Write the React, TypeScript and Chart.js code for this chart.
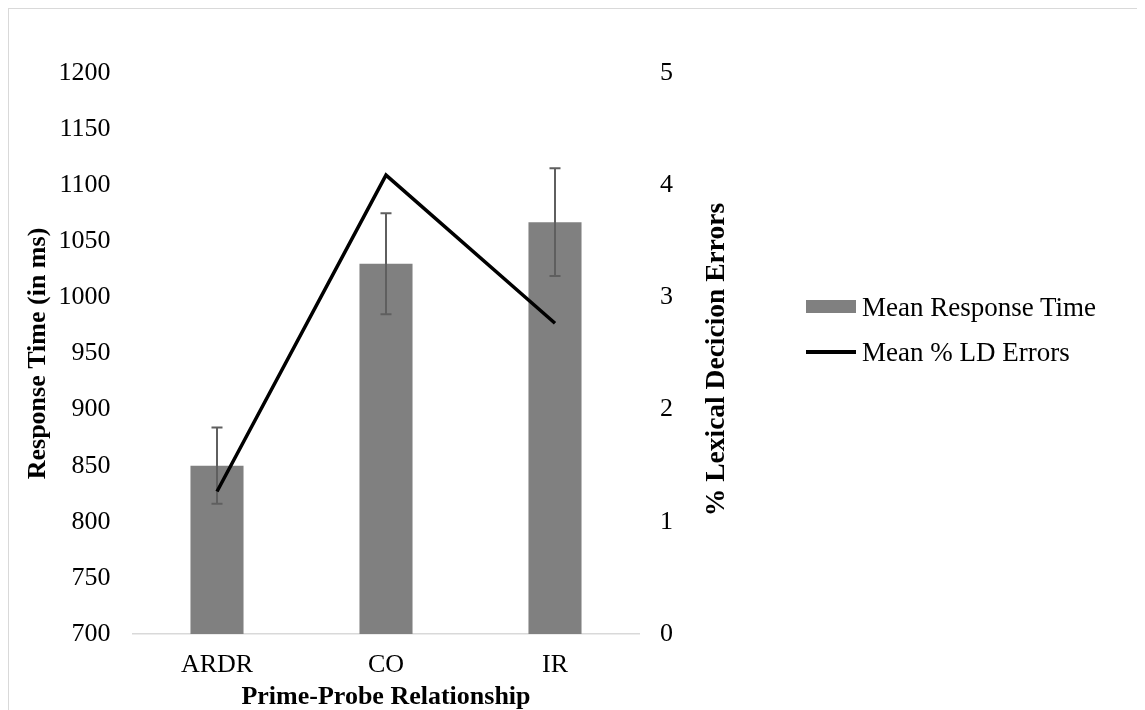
import React, { useEffect, useRef } from "react";
import { Chart, registerables } from "chart.js";

Chart.register(...registerables);

const categories = ["ARDR", "CO", "IR"];
const meanResponseTime = [850, 1030, 1067];
const responseTimeError = [34, 45, 48];
const meanLdErrors = [1.27, 4.09, 2.77];

const leftTicks = [700, 750, 800, 850, 900, 950, 1000, 1050, 1100, 1150, 1200];
const rightTicks = [0, 1, 2, 3, 4, 5];

const FONT = "'Liberation Serif', 'Times New Roman', serif";
const BAR_COLOR = "#808080";
const ERR_COLOR = "#5f5f5f";

const errorBarPlugin = {
  id: "errorBars",
  afterDatasetDraw(chart: any, args: any) {
    if (args.index !== 0) return;
    const meta = chart.getDatasetMeta(0);
    const y = chart.scales.y;
    const ctx = chart.ctx;
    ctx.save();
    ctx.strokeStyle = ERR_COLOR;
    ctx.lineWidth = 2;
    meta.data.forEach((bar: any, i: number) => {
      const x = bar.x;
      const top = y.getPixelForValue(meanResponseTime[i] + responseTimeError[i]);
      const bottom = y.getPixelForValue(meanResponseTime[i] - responseTimeError[i]);
      ctx.beginPath();
      ctx.moveTo(x, top);
      ctx.lineTo(x, bottom);
      ctx.moveTo(x - 5.5, top);
      ctx.lineTo(x + 5.5, top);
      ctx.moveTo(x - 5.5, bottom);
      ctx.lineTo(x + 5.5, bottom);
      ctx.stroke();
    });
    ctx.restore();
  },
};

const rightTitlePlugin = {
  id: "rightTitle",
  afterDraw(chart: any) {
    const ctx = chart.ctx;
    const area = chart.chartArea;
    ctx.save();
    ctx.translate(709, (area.top + area.bottom) / 2 + 6);
    ctx.rotate(-Math.PI / 2);
    ctx.font = `bold 27.5px ${FONT}`;
    ctx.fillStyle = "#000";
    ctx.textAlign = "center";
    ctx.textBaseline = "middle";
    ctx.fillText("% Lexical Decicion Errors", 0, 0);
    ctx.restore();
  },
};

export default function App() {
  const ref = useRef<HTMLCanvasElement>(null);

  useEffect(() => {
    if (!ref.current) return;
    const chart = new Chart(ref.current, {
      type: "bar",
      data: {
        labels: categories,
        datasets: [
          {
            type: "bar",
            label: "Mean Response Time",
            data: meanResponseTime,
            backgroundColor: BAR_COLOR,
            borderWidth: 0,
            yAxisID: "y",
            order: 1,
            categoryPercentage: 1,
            barPercentage: 0.314,
          } as any,
          {
            type: "line",
            label: "Mean % LD Errors",
            data: meanLdErrors,
            borderColor: "#000",
            backgroundColor: "#000",
            borderWidth: 3.5,
            pointRadius: 0,
            tension: 0,
            yAxisID: "y1",
            order: 0,
          } as any,
        ],
      },
      options: {
        animation: false,
        responsive: false,
        maintainAspectRatio: false,
        layout: { padding: { left: 0, top: 65, right: 405.5, bottom: 0 } },
        plugins: {
          legend: { display: false },
          tooltip: { enabled: false },
        },
        scales: {
          x: {
            grid: { display: false, drawTicks: false },
            border: { display: true, color: "#d9d9d9", width: 1.5 },
            ticks: { color: "#000", font: { family: FONT, size: 26 }, padding: 16 },
            title: {
              display: true,
              text: "Prime-Probe Relationship",
              color: "#000",
              font: { family: FONT, size: 26, weight: "bold", lineHeight: 1 },
              padding: 0,
            },
            afterFit(scale: any) {
              scale.height = 76;
            },
          },
          y: {
            position: "left",
            min: 700,
            max: 1200,
            afterBuildTicks(scale: any) {
              scale.ticks = leftTicks.map((v) => ({ value: v }));
            },
            grid: { display: false, drawTicks: false },
            border: { display: false },
            ticks: {
              color: "#000",
              font: { family: FONT, size: 26 },
              padding: 22,
              callback: (v: any) => String(v),
            },
            title: {
              display: true,
              text: "Response Time (in ms)",
              color: "#000",
              font: { family: FONT, size: 26, weight: "bold", lineHeight: 1.2 },
              padding: { top: 15, bottom: 0 },
            },
            afterFit(scale: any) {
              scale.width = 124.5;
            },
          },
          y1: {
            position: "right",
            min: 0,
            max: 5,
            afterBuildTicks(scale: any) {
              scale.ticks = rightTicks.map((v) => ({ value: v }));
            },
            grid: { display: false, drawTicks: false },
            border: { display: false },
            ticks: {
              color: "#000",
              font: { family: FONT, size: 26 },
              padding: 20.5,
              callback: (v: any) => String(v),
            },
            afterFit(scale: any) {
              scale.width = 100;
            },
          },
        },
      } as any,
      plugins: [errorBarPlugin, rightTitlePlugin],
    });
    return () => chart.destroy();
  }, []);

  const legendText: React.CSSProperties = {
    fontFamily: FONT,
    fontSize: 27,
    color: "#000",
    lineHeight: "30px",
    whiteSpace: "nowrap",
  };

  return (
    <div style={{ position: "relative", width: 1137, height: 702, overflow: "hidden" }}>
      <div
        style={{
          position: "absolute",
          left: -1,
          top: -1,
          width: 1200,
          height: 800,
          borderTop: "2px solid #d9d9d9",
          borderLeft: "2px solid #d9d9d9",
          boxSizing: "border-box",
        }}
      />
      <canvas
        ref={ref}
        width={1137}
        height={702}
        style={{ position: "absolute", left: 0, top: 0, width: 1137, height: 702 }}
      />
      <div style={{ position: "absolute", left: 798, top: 283.5, display: "flex", alignItems: "center", height: 30 }}>
        <div style={{ width: 50, height: 13, background: BAR_COLOR, marginRight: 6 }} />
        <span style={legendText}>Mean Response Time</span>
      </div>
      <div style={{ position: "absolute", left: 798, top: 329, display: "flex", alignItems: "center", height: 30 }}>
        <div style={{ width: 50, height: 3.5, background: "#000", marginRight: 6 }} />
        <span style={legendText}>Mean % LD Errors</span>
      </div>
    </div>
  );
}
